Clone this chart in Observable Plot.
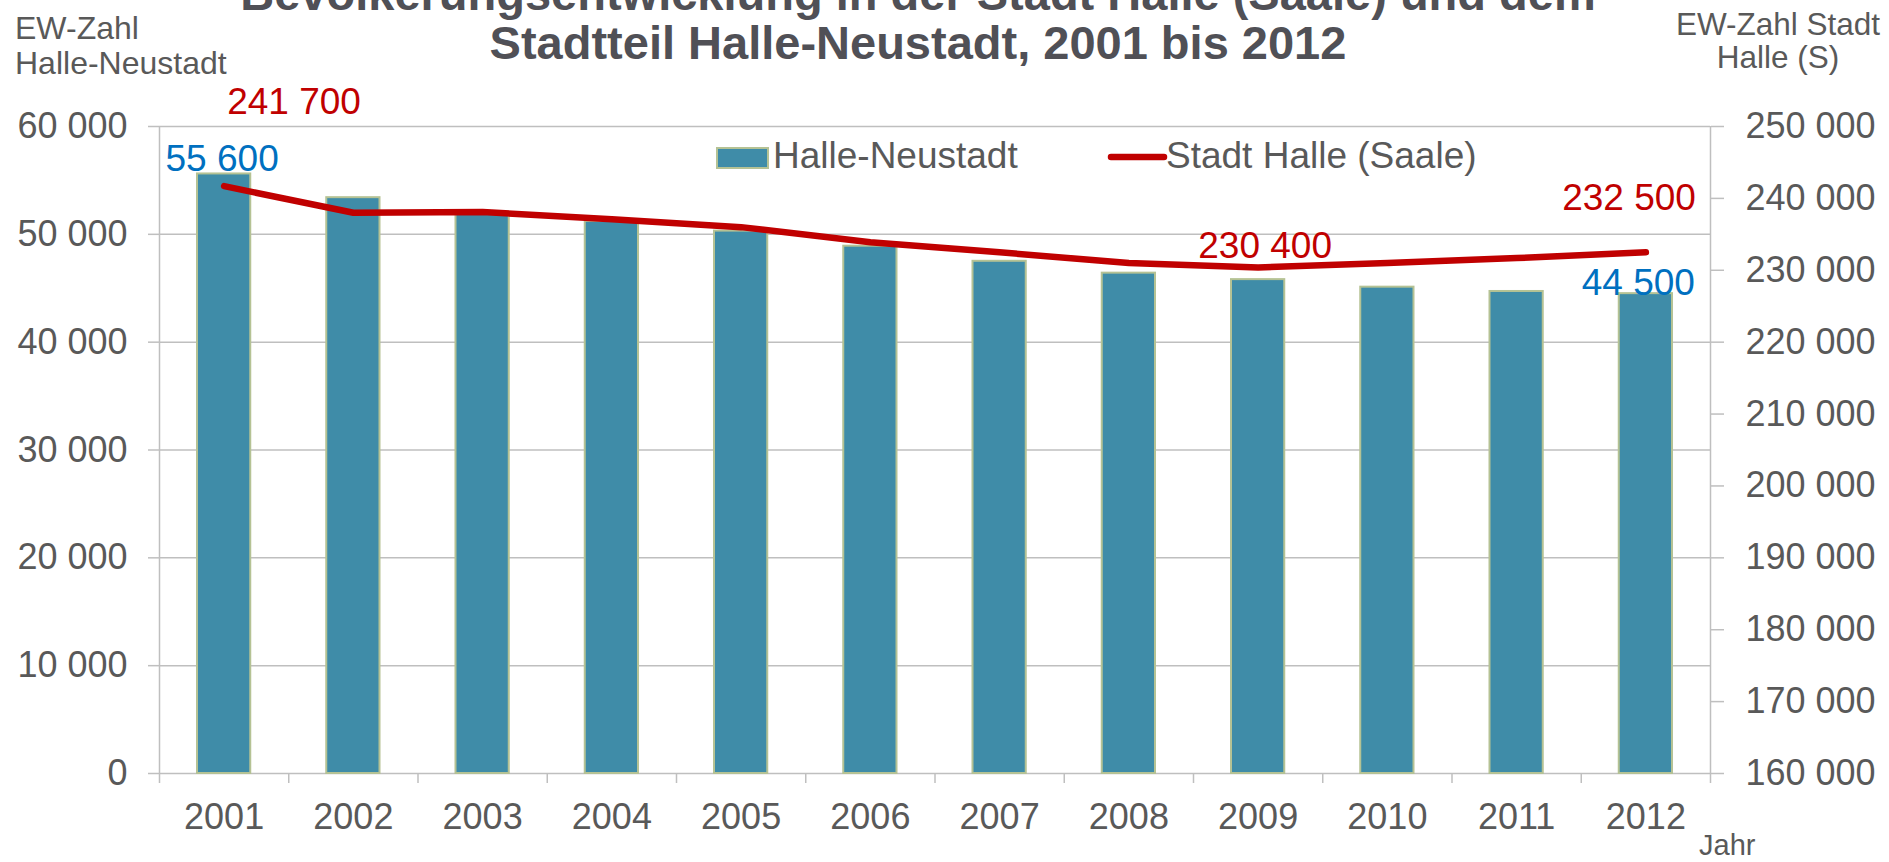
<!DOCTYPE html>
<html><head><meta charset="utf-8">
<script src="https://cdn.jsdelivr.net/npm/d3@7"></script>
<script src="https://cdn.jsdelivr.net/npm/@observablehq/plot@0.6"></script>
<style>
html,body{margin:0;padding:0;background:#fff;overflow:hidden;}
#chart{position:relative;width:1889px;height:862px;overflow:hidden;}
</style></head><body><div id="chart"></div>
<script>
// ---- data ----
const years = [2001, 2002, 2003, 2004, 2005, 2006, 2007, 2008, 2009, 2010, 2011, 2012];
const neustadt = [55600, 53400, 52000, 51200, 50300, 48900, 47500, 46400, 45800, 45100, 44700, 44500];
const halle = [241700, 238000, 238100, 237100, 236000, 233900, 232500, 231000, 230400, 231000, 231700, 232500];
const leftTicks = [0, 10000, 20000, 30000, 40000, 50000, 60000];
const rightTicks = [160000, 170000, 180000, 190000, 200000, 210000, 220000, 230000, 240000, 250000];
const neustadtLabelYears = [2001, 2012];
const halleLabelYears = [2001, 2009, 2012];
const titleLines = ["Bevölkerungsentwicklung in der Stadt Halle (Saale) und dem", "Stadtteil Halle-Neustadt, 2001 bis 2012"];
const leftTitle = ["EW-Zahl", "Halle-Neustadt"];
const rightTitle = ["EW-Zahl Stadt", "Halle (S)"];
const xTitle = "Jahr";
const seriesNames = ["Halle-Neustadt", "Stadt Halle (Saale)"];

// ---- style ----
const FONT = '"Liberation Sans", Arial, sans-serif';
const TEXT = "#595959";
const TITLE = "#505056";
const GRID = "#bfbfbf";
const BAR = "#3f8ca8";
const BARSTROKE = "#b5c294";
const RED = "#c00000";
const BLUE = "#0070c0";

const fmt = d3.formatLocale({decimal: ",", thousands: " ", grouping: [3], currency: ["", ""]}).format(",d");
const toLeft = d3.scaleLinear().domain([rightTicks[0], rightTicks[rightTicks.length - 1]]).range([leftTicks[0], leftTicks[leftTicks.length - 1]]);

const barData = years.map((year, i) => ({year, value: neustadt[i]}));
const lineData = years.map((year, i) => ({year, value: halle[i], y: toLeft(halle[i])}));
const boundaries = years.map(y => y - 0.5).concat([years[years.length - 1] + 0.5]);
const xDomain = [boundaries[0], boundaries[boundaries.length - 1]];

const pick = (data, yr) => data.filter(d => d.year === yr);

const plot = Plot.plot({
  width: 1889, height: 862,
  marginLeft: 159, marginRight: 179, marginTop: 126, marginBottom: 89,
  style: {fontFamily: FONT, background: "transparent", color: TEXT, overflow: "visible"},
  x: {type: "linear", domain: xDomain, label: null},
  y: {domain: [leftTicks[0], leftTicks[leftTicks.length - 1]], label: null},
  marks: [
    Plot.gridY(leftTicks, {stroke: GRID, strokeOpacity: 1, strokeWidth: 1.5}),
    Plot.ruleX(xDomain, {stroke: GRID, strokeOpacity: 1, strokeWidth: 1.5}),
    Plot.axisY(leftTicks, {anchor: "left", tickSize: 11, tickPadding: 21, tickFormat: fmt, fontSize: 36, fill: TEXT, stroke: GRID, strokeWidth: 1.5, label: null}),
    Plot.axisY(rightTicks.map(toLeft), {anchor: "right", tickSize: 13, tickPadding: 22, tickFormat: d => fmt(Math.round(toLeft.invert(d))), fontSize: 36, fill: TEXT, stroke: GRID, strokeWidth: 1.5, label: null}),
    Plot.axisX(boundaries, {tickSize: 10, tickFormat: () => "", stroke: GRID, strokeWidth: 1.5, label: null}),
    Plot.axisX(years, {tickSize: 0, tickPadding: 30, tickFormat: d => String(d), fontSize: 36, fill: TEXT, label: null}),
    Plot.rectY(barData, {x1: d => d.year - 0.5, x2: d => d.year + 0.5, y1: 0, y2: "value", insetLeft: 38, insetRight: 38, fill: BAR, stroke: BARSTROKE, strokeWidth: 2}),
    Plot.line(lineData, {x: "year", y: "y", stroke: RED, strokeWidth: 6.5, strokeLinecap: "round", strokeLinejoin: "round"}),
    Plot.text(pick(barData, neustadtLabelYears[0]), {x: "year", y: "value", text: d => fmt(d.value), fill: BLUE, fontSize: 37, textAnchor: "middle", lineAnchor: "bottom", dx: -2, dy: -3}),
    Plot.text(pick(barData, neustadtLabelYears[1]), {x: "year", y: "value", text: d => fmt(d.value), fill: BLUE, fontSize: 37, textAnchor: "end", lineAnchor: "bottom", dx: 49, dy: 1}),
    Plot.text(pick(lineData, halleLabelYears[0]), {x: "year", y: "y", text: d => fmt(d.value), fill: RED, fontSize: 37, textAnchor: "start", lineAnchor: "bottom", dx: 3, dy: -72}),
    Plot.text(pick(lineData, halleLabelYears[1]), {x: "year", y: "y", text: d => fmt(d.value), fill: RED, fontSize: 37, textAnchor: "middle", lineAnchor: "bottom", dx: 7, dy: -9}),
    Plot.text(pick(lineData, halleLabelYears[2]), {x: "year", y: "y", text: d => fmt(d.value), fill: RED, fontSize: 37, textAnchor: "end", lineAnchor: "bottom", dx: 50, dy: -42})
  ]
});

const svg = d3.select(plot);
const addText = (x, y, txt, size, anchor, fill, weight) =>
  svg.append("text").attr("x", x).attr("y", y).attr("text-anchor", anchor)
    .attr("font-family", FONT).attr("font-size", size).attr("font-weight", weight || "normal")
    .attr("fill", fill).text(txt);
// title
addText(918, 10, titleLines[0], 47, "middle", TITLE, "bold");
addText(918, 59, titleLines[1], 47, "middle", TITLE, "bold");
// axis titles
addText(15, 39, leftTitle[0], 32, "start", TEXT);
addText(15, 74, leftTitle[1], 32, "start", TEXT);
addText(1778, 35, rightTitle[0], 31.5, "middle", TEXT);
addText(1778, 68, rightTitle[1], 31.5, "middle", TEXT);
addText(1699, 855, xTitle, 29, "start", TEXT);
// legend
svg.append("rect").attr("x", 717).attr("y", 148).attr("width", 51).attr("height", 20).attr("fill", BAR).attr("stroke", BARSTROKE).attr("stroke-width", 2);
addText(773, 168, seriesNames[0], 37, "start", TEXT);
svg.append("line").attr("x1", 1111).attr("x2", 1164).attr("y1", 157).attr("y2", 157).attr("stroke", RED).attr("stroke-width", 6.5).attr("stroke-linecap", "round");
addText(1166, 168, seriesNames[1], 37, "start", TEXT);

document.getElementById("chart").appendChild(plot);
</script>
</body></html>
